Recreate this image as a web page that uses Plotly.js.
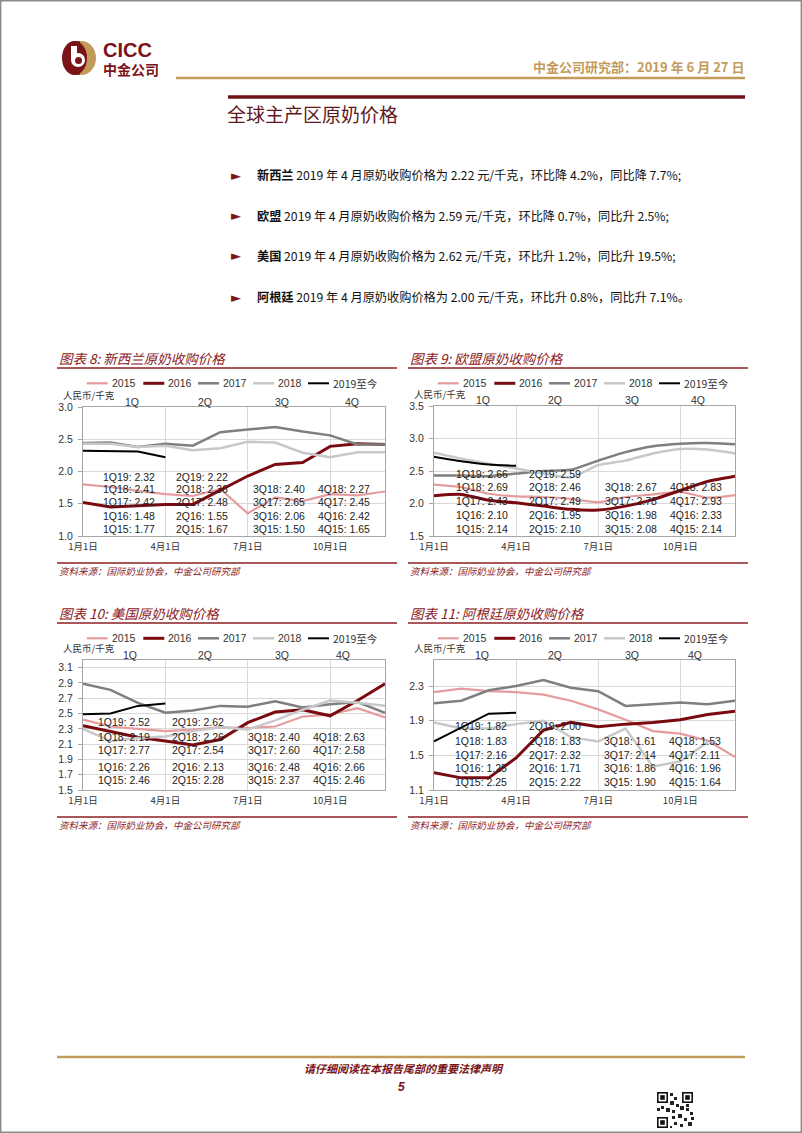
<!DOCTYPE html>
<html><head><meta charset="utf-8">
<script src="https://cdn.plot.ly/plotly-3.0.1.min.js"></script>
<style>html,body{margin:0;padding:0;background:#fff;} #page{width:802px;height:1133px;}</style>
</head><body><div id="page"></div>
<script>
// ---------------- data ----------------
const months = ['1月','2月','3月','4月','5月','6月','7月','8月','9月','10月','11月','12月'];
const tickMonths = ['1月','4月','7月','10月'];
const tickLabels = ['1月1日','4月1日','7月1日','10月1日'];
const quarterNames = ['1Q','2Q','3Q','4Q'];
const seriesNames = ['2015','2016','2017','2018','2019至今'];
const labelYears = ['19','18','17','16','15'];

// 新西兰 monthly
const nz2015 = [1.80,1.76,1.70,1.65,1.62,1.73,1.35,1.60,1.54,1.65,1.63,1.69];
const nz2016 = [1.52,1.45,1.47,1.49,1.49,1.71,1.93,2.11,2.14,2.39,2.43,2.42];
const nz2017 = [2.44,2.45,2.38,2.43,2.40,2.61,2.65,2.69,2.62,2.56,2.42,2.42];
const nz2018 = [2.43,2.43,2.38,2.40,2.33,2.36,2.46,2.45,2.29,2.22,2.30,2.30];
const nz2019 = [2.32,2.32,2.31,2.22];
// 欧盟 monthly
const eu2015 = [2.29,2.25,2.15,2.11,2.10,2.07,2.02,2.10,2.14,2.18,2.09,2.13];
const eu2016 = [2.12,2.14,2.05,2.01,1.96,1.91,1.90,1.96,2.06,2.20,2.34,2.42];
const eu2017 = [2.43,2.43,2.42,2.46,2.50,2.52,2.66,2.79,2.88,2.92,2.93,2.91];
const eu2018 = [2.78,2.69,2.61,2.54,2.46,2.40,2.59,2.66,2.77,2.84,2.83,2.77];
const eu2019 = [2.72,2.65,2.60,2.58];
// 美国 monthly
const us2015 = [2.42,2.33,2.30,2.27,2.29,2.32,2.31,2.33,2.46,2.49,2.57,2.45];
const us2016 = [2.34,2.27,2.19,2.14,2.09,2.16,2.38,2.52,2.55,2.47,2.67,2.89];
const us2017 = [2.89,2.81,2.64,2.51,2.54,2.60,2.59,2.66,2.58,2.62,2.65,2.51];
const us2018 = [2.30,2.14,2.18,2.20,2.27,2.32,2.29,2.41,2.55,2.67,2.64,2.60];
const us2019 = [2.49,2.50,2.60,2.63];
// 阿根廷 monthly
const ar2015 = [2.23,2.27,2.24,2.23,2.20,2.13,2.03,1.91,1.78,1.75,1.67,1.48];
const ar2016 = [1.30,1.24,1.24,1.47,1.79,1.88,1.83,1.86,1.88,1.91,1.97,2.01];
const ar2017 = [2.10,2.13,2.25,2.30,2.37,2.28,2.24,2.07,2.09,2.11,2.09,2.13];
const ar2018 = [1.88,1.81,1.81,1.86,1.90,1.71,1.66,1.81,1.37,1.43,1.65];
const ar2019 = [1.66,1.82,1.98,1.99];

// quarterly averages shown as labels
const nzQ2019 = [2.32,2.22], nzQ2018 = [2.41,2.36,2.40,2.27], nzQ2017 = [2.42,2.48,2.65,2.45], nzQ2016 = [1.48,1.55,2.06,2.42], nzQ2015 = [1.77,1.67,1.50,1.65];
const euQ2019 = [2.66,2.59], euQ2018 = [2.69,2.46,2.67,2.83], euQ2017 = [2.43,2.49,2.78,2.93], euQ2016 = [2.10,1.95,1.98,2.33], euQ2015 = [2.14,2.10,2.08,2.14];
const usQ2019 = [2.52,2.62], usQ2018 = [2.19,2.26,2.40,2.63], usQ2017 = [2.77,2.54,2.60,2.58], usQ2016 = [2.26,2.13,2.48,2.66], usQ2015 = [2.46,2.28,2.37,2.46];
const arQ2019 = [1.82,2.00], arQ2018 = [1.83,1.83,1.61,1.53], arQ2017 = [2.16,2.32,2.14,2.11], arQ2016 = [1.25,1.71,1.86,1.96], arQ2015 = [2.25,2.22,1.90,1.64];

const chartTitles = ['图表 8: 新西兰原奶收购价格','图表 9: 欧盟原奶收购价格','图表 10: 美国原奶收购价格','图表 11: 阿根廷原奶收购价格'];
const unitLabel = '人民币/千克';
const sourceText = '资料来源：国际奶业协会，中金公司研究部';

const bulletNames = ['新西兰','欧盟','美国','阿根廷'];
const bulletBodies = [
  ' 2019 年 4 月原奶收购价格为 2.22 元/千克，环比降 4.2%，同比降 7.7%;',
  ' 2019 年 4 月原奶收购价格为 2.59 元/千克，环比降 0.7%，同比升 2.5%;',
  ' 2019 年 4 月原奶收购价格为 2.62 元/千克，环比升 1.2%，同比升 19.5%;',
  ' 2019 年 4 月原奶收购价格为 2.00 元/千克，环比升 0.8%，同比升 7.1%。'
];

// ---------------- layout helpers ----------------
const W = 802, H = 1133;
const px = x => x / W;
const py = y => 1 - y / H;
const CJK = '"Noto Sans CJK SC", "Noto Sans", sans-serif';
const LAT = '"Liberation Sans", Arial, sans-serif';
const RED = '#7A1419', GOLD = '#C49A5A';
const lineStyles = [
  {color:'#E59C9E', width:2.2},
  {color:'#7B0A10', width:3},
  {color:'#7F7F7F', width:2.5},
  {color:'#C8C8C8', width:2.5},
  {color:'#000000', width:2}
];

const charts = [
  {series:[nz2015,nz2016,nz2017,nz2018,nz2019], q:[nzQ2019,nzQ2018,nzQ2017,nzQ2016,nzQ2015],
   L:83, R:385, T:407, B:536, yr:[1,3], dt:0.5, t0:1, shape:'linear',
   rows:[476.7,489,502.3,515.7,528.7], cols:[101.7,175,251.7,316.7], qx:[132,205,281.7,351.7],
   top:340},
  {series:[eu2015,eu2016,eu2017,eu2018,eu2019], q:[euQ2019,euQ2018,euQ2017,euQ2016,euQ2015],
   L:434, R:735, T:406, B:536, yr:[1.5,3.5], dt:0.5, t0:1.5, shape:'spline',
   rows:[474.3,487,501,514.7,529.3], cols:[455,528.3,604,669.3], qx:[482.7,555,631.7,698.3],
   top:340},
  {series:[us2015,us2016,us2017,us2018,us2019], q:[usQ2019,usQ2018,usQ2017,usQ2016,usQ2015],
   L:83, R:385, T:660, B:790, yr:[1.5,3.2], dt:0.2, t0:1.5, shape:'linear',
   rows:[722.3,736.7,750.3,766.7,780.3], cols:[96.7,170.7,246.7,311.7], qx:[130,205,281.7,343],
   top:595},
  {series:[ar2015,ar2016,ar2017,ar2018,ar2019], q:[arQ2019,arQ2018,arQ2017,arQ2016,arQ2015],
   L:434, R:735, T:660, B:790, yr:[1.1,2.6], dt:0.4, t0:1.1, shape:'linear',
   rows:[726,740.7,754.7,768.3,781.7], cols:[454,528.3,603.3,668.3], qx:[481.7,555,631.7,695],
   top:595}
];

const traces = [], annotations = [], shapes = [];
const layout = {
  width: W, height: H, margin:{l:0,r:0,t:0,b:0},
  paper_bgcolor:'#fff', plot_bgcolor:'#fff', showlegend:false,
  font:{family:LAT, color:'#222'}
};

function ann(x, y, text, opt) {
  annotations.push(Object.assign({xref:'paper', yref:'paper', x:px(x), y:py(y), text:text,
    showarrow:false, xanchor:'left', yanchor:'middle', borderpad:0,
    font:{family:CJK, size:12, color:'#222'}}, opt||{}));
}
function hline(x0, x1, y, color, width) {
  shapes.push({type:'line', xref:'paper', yref:'paper', x0:px(x0), x1:px(x1), y0:py(y), y1:py(y),
    line:{color:color, width:width}});
}

charts.forEach((c, i) => {
  const n = i + 1, sx = n === 1 ? '' : String(n);
  const xa = 'x' + sx, ya = 'y' + sx;
  c.series.forEach((ys, k) => {
    traces.push({type:'scatter', mode:'lines', x: months.slice(0, ys.length), y: ys,
      xaxis: xa, yaxis: ya, name: seriesNames[k], hoverinfo:'skip',
      line:{color:lineStyles[k].color, width:lineStyles[k].width, shape:c.shape, smoothing:0.6}});
  });
  layout['xaxis' + sx] = {domain:[px(c.L), px(c.R)], anchor: ya, type:'category',
    categoryorder:'array', categoryarray: months, range:[0, 11],
    tickmode:'array', tickvals: tickMonths, ticktext: tickLabels,
    showgrid:true, gridcolor:'#d9d9d9', gridwidth:1, showline:true, mirror:true,
    linecolor:'#a6a6a6', linewidth:1, ticks:'', ticklabelstandoff:2,
    tickfont:{family:CJK, size:9.5, color:'#333'}, zeroline:false, fixedrange:true};
  layout['yaxis' + sx] = {domain:[py(c.B), py(c.T)], anchor: xa, range: c.yr,
    tick0: c.t0, dtick: c.dt, tickformat:'.1f',
    showgrid:true, gridcolor:'#d9d9d9', gridwidth:1, showline:true, mirror:true,
    linecolor:'#a6a6a6', linewidth:1, ticks:'outside', ticklen:4, tickcolor:'#a6a6a6',
    ticklabelstandoff:3, tickfont:{family:LAT, size:10.5, color:'#333'}, zeroline:false, fixedrange:true};

  const left = c.L - 26;    // chart block left edge
  const top = c.top;
  // title + rule
  ann(left + 1, top + 18, '<i>' + chartTitles[i] + '</i>', {font:{family:CJK, size:13.5, color:'#8B2024'}});
  hline(left, left + 340, top + 28, '#8B2024', 1.3);
  // legend
  const legY = top + 43.3;
  const legOff = [3.7, 60.3, 115, 170, 225];
  legOff.forEach((o, k) => {
    const x0 = c.L + o;
    shapes.push({type:'line', xref:'paper', yref:'paper', x0:px(x0), x1:px(x0 + 21), y0:py(legY), y1:py(legY),
      line:{color:lineStyles[k].color, width:lineStyles[k].width}});
    ann(x0 + 24, legY, seriesNames[k], {font:{family:k === 4 ? CJK : LAT, size:10.5, color:'#333'}});
  });
  // unit label
  ann(c.L - 21, c.T - 12, unitLabel, {font:{family:CJK, size:9.5, color:'#333'}});
  // quarter labels
  quarterNames.forEach((q, k) => ann(c.qx[k], c.T - 5.5, q, {xanchor:'center', font:{family:LAT, size:10.5, color:'#333'}}));
  // quarterly value labels
  c.q.forEach((vals, r) => {
    vals.forEach((v, k) => {
      ann(c.cols[k], c.rows[r], quarterNames[k] + labelYears[r] + ': ' + v.toFixed(2),
        {font:{family:LAT, size:10.5, color:'#222'}});
    });
  });
  // source
  hline(left, left + 340, c.B + 27, '#8B2024', 1.3);
  ann(left + 1, c.B + 35, '<i>' + sourceText + '</i>', {font:{family:CJK, size:9.5, color:'#8B2024'}});
});

// ---------------- page header ----------------
// logo (circle, gold right part, white swirl)
const lcx = 79, lcy = 58, lr = 17;
shapes.push({type:'circle', xref:'paper', yref:'paper', x0:px(lcx-lr+5), x1:px(lcx+lr), y0:py(lcy+lr), y1:py(lcy-lr),
  fillcolor:GOLD, line:{width:0}});
shapes.push({type:'circle', xref:'paper', yref:'paper', x0:px(lcx-lr), x1:px(lcx+lr-9), y0:py(lcy+lr), y1:py(lcy-lr),
  fillcolor:RED, line:{width:0}});
shapes.push({type:'rect', xref:'paper', yref:'paper', x0:px(lcx-6), x1:px(lcx+1), y0:py(lcy+lr-0.3), y1:py(lcy-lr+0.3),
  fillcolor:RED, line:{width:0}});
shapes.push({type:'circle', xref:'paper', yref:'paper', x0:px(lcx-8), x1:px(lcx+6), y0:py(lcy+9), y1:py(lcy-5),
  fillcolor:'#fff', line:{width:0}});
shapes.push({type:'rect', xref:'paper', yref:'paper', x0:px(lcx-8), x1:px(lcx-2), y0:py(lcy+2), y1:py(lcy-12),
  fillcolor:'#fff', line:{width:0}});
shapes.push({type:'circle', xref:'paper', yref:'paper', x0:px(lcx-4), x1:px(lcx+3), y0:py(lcy+6), y1:py(lcy-1),
  fillcolor:RED, line:{width:0}});
ann(102, 50, '<b>CICC</b>', {font:{family:LAT, size:20, color:RED}});
ann(102, 69.5, '<b>中金公司</b>', {font:{family:CJK, size:14, color:RED}});
ann(745, 67, '<b>中金公司研究部：2019 年 6 月 27 日</b>', {xanchor:'right', font:{family:CJK, size:13, color:GOLD}});
hline(176, 745, 78, GOLD, 2.5);
hline(228, 745, 97, '#6E1218', 3.5);
ann(226, 113, '全球主产区原奶价格', {font:{family:CJK, size:19, color:'#5E1A1C'}});

const bulletY = [175, 216, 256, 297];
bulletNames.forEach((nm, k) => {
  ann(230, bulletY[k], '►', {font:{family:'DejaVu Sans', size:13, color:RED}});
  ann(256, bulletY[k], '<b>' + nm + '</b>' + bulletBodies[k], {font:{family:CJK, size:12.2, color:'#111'}});
});

// ---------------- footer ----------------
hline(57, 745, 1057, GOLD, 2.5);
ann(404, 1068, '<b><i>请仔细阅读在本报告尾部的重要法律声明</i></b>', {xanchor:'center', font:{family:CJK, size:11, color:RED}});
ann(401, 1087, '<b><i>5</i></b>', {xanchor:'center', font:{family:LAT, size:12, color:RED}});
// QR-like mark
function sq(x, y, s, col) {
  shapes.push({type:'rect', xref:'paper', yref:'paper', x0:px(x), x1:px(x + s), y0:py(y + s), y1:py(y),
    fillcolor:col, line:{width:0}});
}
[[657,1092],[682,1092],[657,1117]].forEach(p => { sq(p[0], p[1], 11, '#111'); sq(p[0]+1.6, p[1]+1.6, 7.8, '#fff'); sq(p[0]+3.2, p[1]+3.2, 4.6, '#111'); });
[[670,1093,3],[674,1097,3],[670,1101,4],[676,1104,3],[661,1106,3],[666,1108,4],[672,1110,3],[680,1106,4],[686,1108,3],[690,1112,3],
 [672,1116,3],[678,1114,4],[684,1118,3],[688,1122,4],[674,1122,3],[680,1124,3],[670,1126,2],[686,1104,3],[657,1108,3],[691,1117,3]]
 .forEach(p => sq(p[0], p[1], p[2], '#222'));

// page border
shapes.push({type:'rect', xref:'paper', yref:'paper', x0:0.0008, x1:0.9992, y0:0.0006, y1:0.9994,
  line:{color:'#8a8a8a', width:1.5}, fillcolor:'rgba(0,0,0,0)'});

layout.annotations = annotations;
layout.shapes = shapes;
Plotly.newPlot('page', traces, layout, {staticPlot:true, displayModeBar:false});
</script>
</body></html>
